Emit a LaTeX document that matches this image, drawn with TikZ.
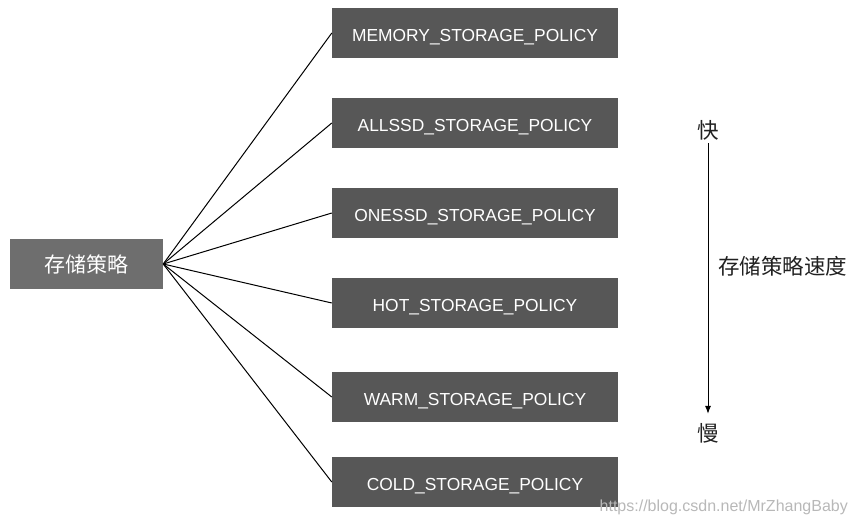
\documentclass[tikz,border=0pt]{standalone}
\usepackage{fontspec}
\setmainfont{Liberation Sans}
\newfontfamily\cjk{Noto Sans CJK SC}
\usetikzlibrary{arrows.meta}

\begin{document}
\begin{tikzpicture}[x=1pt, y=-1pt]
\tikzstyle{box}=[rectangle, text=white, inner sep=0pt, minimum height=50pt]
\tikzstyle{policy}=[box, fill=black!66, minimum width=286pt, text height=17pt, text depth=0pt, font=\fontsize{17.4}{20}\selectfont]
\tikzstyle{root}=[box, fill=black!57, minimum width=153pt, font=\cjk\fontsize{21}{24}\selectfont]
\tikzstyle{speed}=[text=black!87, inner sep=0pt, font=\cjk\fontsize{21.5}{24}\selectfont]
\tikzstyle{link}=[black, line width=1pt]

\useasboundingbox (0,0) rectangle (858,525);

% Left: the strategy box
\node[root] (strategy) at (86.5,264) {存储策略};

% Right: the six policies, fast to slow
\foreach \name/\y [count=\i] in {MEMORY/33, ALLSSD/123, ONESSD/213, HOT/303, WARM/397, COLD/482} {
    \node[policy] (p\i) at (475,\y) {\name\_STORAGE\_POLICY};
    \draw[link] (strategy.east) -- (p\i.west);
};

% Speed axis
\node[speed] (fast) at (708,130) {快};
\node[speed] (slow) at (708,433) {慢};
\draw[link, -{Latex[length=8pt, width=6pt]}, shorten <=3pt, shorten >=9pt] (fast.south) -- (slow.north);
\node[speed, anchor=west] (axislabel) at (718,266) {存储策略速度};

% Watermark
\node[text=black!28, inner sep=0pt, font=\fontsize{16}{18}\selectfont, anchor=east] (wm) at (848,507) {https://blog.csdn.net/MrZhangBaby};

\end{tikzpicture}
\end{document}
